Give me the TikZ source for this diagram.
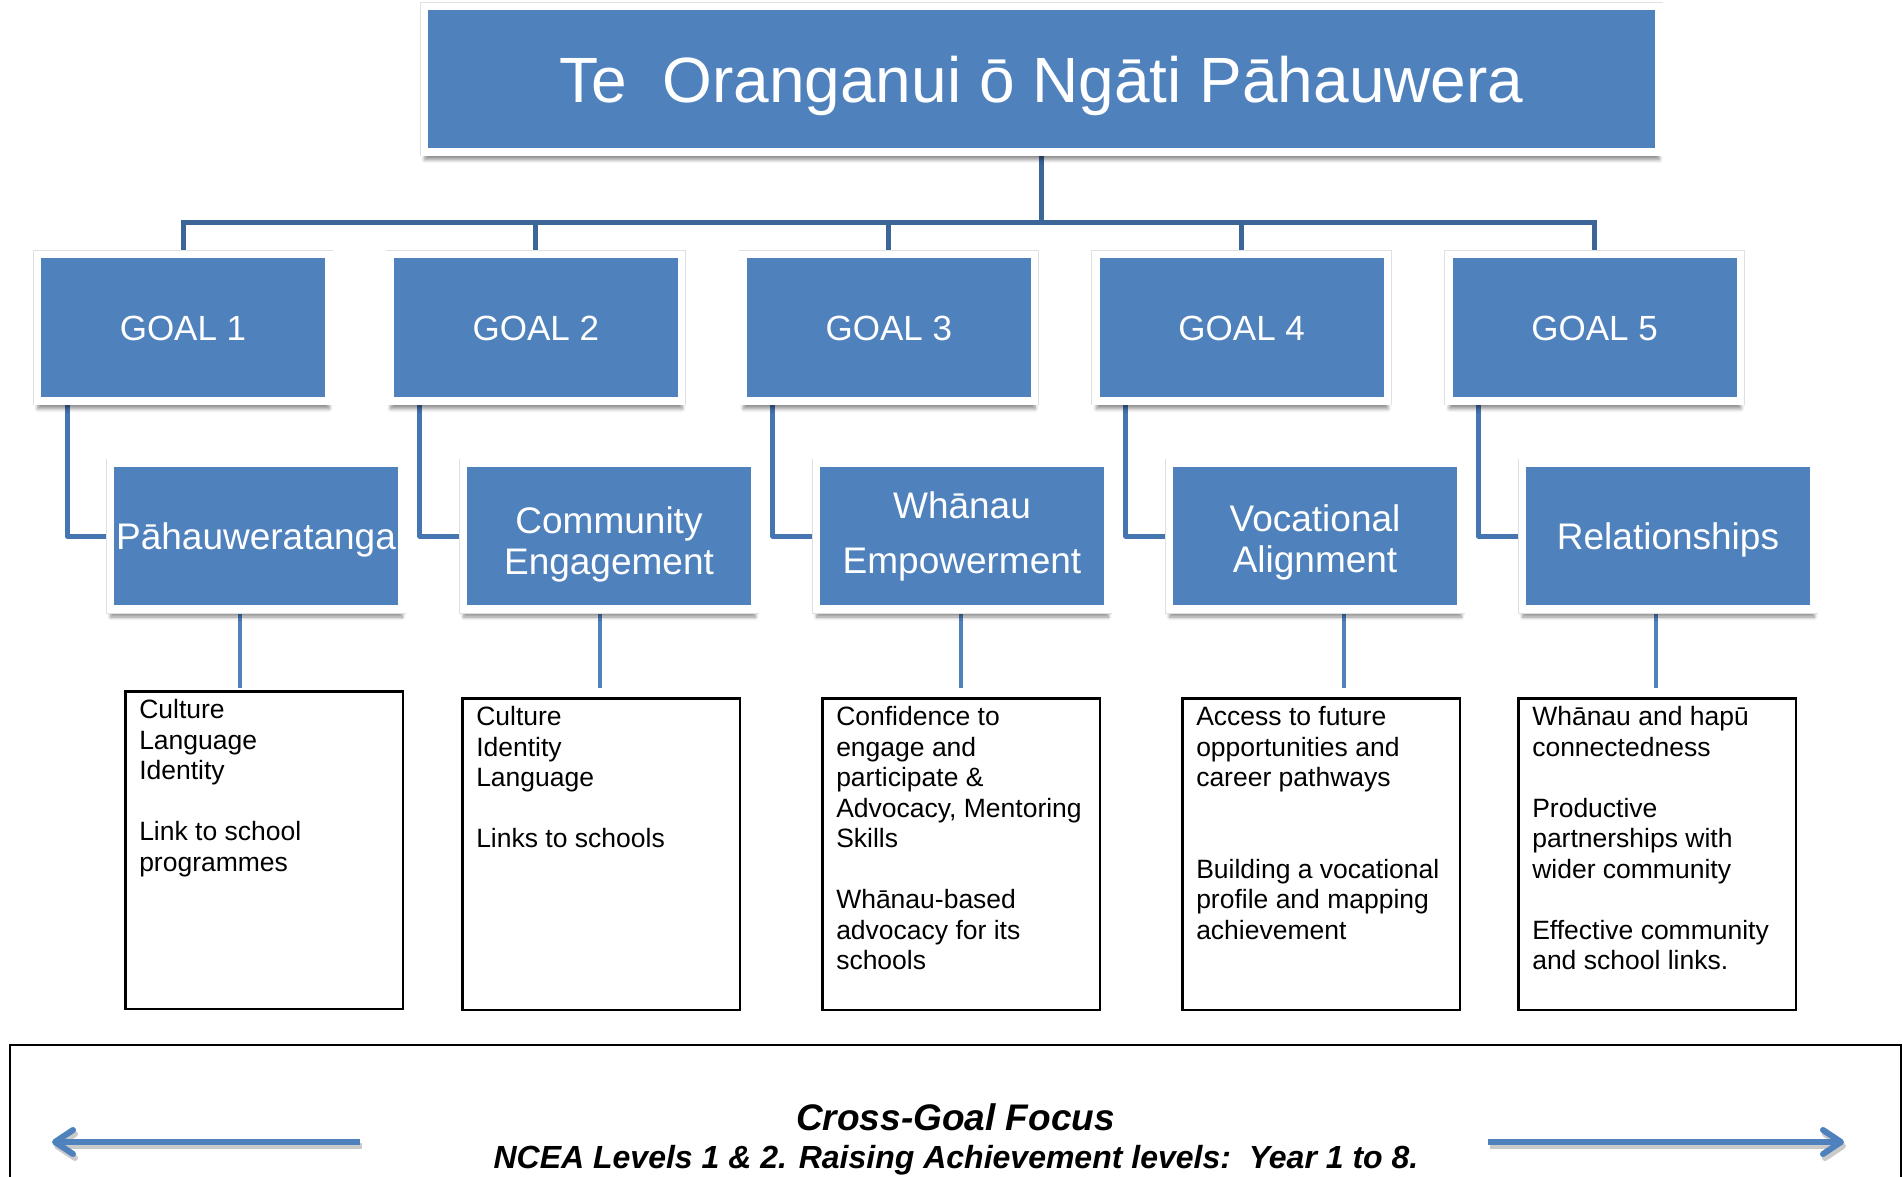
\documentclass[tikz,border=0pt]{standalone}
\usepackage{fontspec}
\setmainfont{Liberation Sans}
\usetikzlibrary{arrows.meta,backgrounds,shadows.blur}

\definecolor{orgblue}{HTML}{4F81BD}
\definecolor{busblue}{HTML}{3C6698}
\definecolor{linkblue}{HTML}{4676B2}
\definecolor{arrowgray}{HTML}{CACACA}

\tikzset{
  bluebox/.style={rectangle, fill=orgblue, draw=white, line width=7.5pt, inner sep=0pt,
    text=white, align=center,
    blur shadow={shadow xshift=0.5pt, shadow yshift=-8pt, shadow opacity=45,
      shadow blur steps=6, shadow blur radius=3.5pt},
    preaction={draw=black!12, line width=9pt}},
  goalbox/.style={bluebox, minimum width=291.5pt, minimum height=146.5pt,
    font=\fontsize{35}{40}\selectfont, text height=25pt, text depth=0pt},
  areabox/.style={bluebox, minimum width=291.5pt, minimum height=146pt,
    font=\fontsize{37}{41}\selectfont},
  oneline/.style={text height=26.5pt, text depth=0pt},
  infobox/.style={draw=black, line width=2.5pt, anchor=north west, inner xsep=14pt,
    inner ysep=6pt, font=\fontsize{26.5}{30.5}\selectfont},
  bus/.style={draw=busblue, line width=5pt},
  elbow/.style={draw=linkblue, line width=5pt, line join=round},
  drop/.style={draw=orgblue, line width=4.5pt},
  wide/.style={line width=6pt, -{Straight Barb[round, length=18pt, width=24pt]}}
}

\begin{document}
\begin{tikzpicture}[x=1pt, y=-1pt]
  \useasboundingbox (0,0) rectangle (1903,1176);

  % top of the tree
  \node[bluebox, minimum width=1234.5pt, minimum height=145.5pt,
    font=\fontsize{64}{70}\selectfont, text height=46pt, text depth=0pt]
    (title) at (1041.5,79) {Te\ \ Oranganui ō Ngāti Pāhauwera};

  % the five goals
  \foreach \i in {1,...,5}
    \node[goalbox] (g\i) at ({183+352.9*(\i-1)},327.5) {GOAL \i};

  % focus areas
  \node[areabox, oneline] (area1) at (256,536) {Pāhauweratanga};
  \node[areabox] (area2) at (609,536) {\rule{0pt}{43pt}Community\\Engagement};
  \node[areabox] (area3) at (962,536) {Whānau\\[14pt]Empowerment};
  \node[areabox] (area4) at (1315,536) {\rule{0pt}{39pt}Vocational\\Alignment};
  \node[areabox, oneline] (area5) at (1668,536) {Relationships};

  % outcomes under each area
  \node[infobox] (info1) at (124,690) {\parbox[t][305.5pt][t]{249.5pt}{\raggedright\strut
    Culture\\ Language\\ Identity\\[\baselineskip] Link to school\\ programmes}};
  \node[infobox] (info2) at (461,697) {\parbox[t][299.5pt][t]{249.5pt}{\raggedright\strut
    Culture\\ Identity\\ Language\\[\baselineskip] Links to schools}};
  \node[infobox] (info3) at (821,697) {\parbox[t][299.5pt][t]{249.5pt}{\raggedright\strut
    Confidence to\\ engage and\\ participate \&\\ Advocacy, Mentoring\\ Skills\\[\baselineskip]
    Whānau-based\\ advocacy for its\\ schools}};
  \node[infobox] (info4) at (1181,697) {\parbox[t][299.5pt][t]{249.5pt}{\raggedright\strut
    Access to future\\ opportunities and\\ career pathways\\[2\baselineskip]
    Building a vocational\\ profile and mapping\\ achievement}};
  \node[infobox] (info5) at (1517,697) {\parbox[t][299.5pt][t]{249.5pt}{\raggedright\strut
    Whānau and hapū\\ connectedness\\[\baselineskip] Productive\\ partnerships with\\
    wider community\\[\baselineskip] Effective community\\ and school links.}};

  \begin{scope}[on background layer]
    \coordinate (bus) at ([yshift=-67pt]title.south);
    \draw[bus] (title.south) -- (bus);
    \foreach \i in {1,...,5}
      \draw[bus] (bus) -| (g\i.north);
    \foreach \i in {1,...,5}
      \draw[elbow] ([xshift=-116pt]g\i.south) |- (area\i.west);
    \foreach \i/\d/\g in {1/-24/2, 2/-1/9, 3/0/9, 4/23/9, 5/-1/9}
      \draw[drop, shorten >=\g pt] ([xshift=\d pt]info\i.north |- area\i.south)
        -- ([xshift=\d pt]info\i.north);
  \end{scope}

  % cross-goal strip at the foot
  \draw[line width=2.5pt] (10,1045) rectangle (1901,1240);
  \node[font=\fontsize{37}{40}\selectfont\bfseries\itshape, anchor=base]
    (focus) at (955.5,1130) {Cross-Goal Focus};
  \node[font=\fontsize{32}{36}\selectfont\bfseries\itshape, anchor=base]
    (ncea) at (956,1168) {NCEA Levels 1 \& 2. Raising Achievement levels:\ \ Year 1 to 8.};

  \coordinate (lfrom) at (360,1142);
  \coordinate (lto) at (52,1142);
  \coordinate (rfrom) at (1488,1142);
  \coordinate (rto) at (1844,1142);
  \draw[wide, arrowgray] ([shift={(2pt,-4pt)}]lfrom) -- ([shift={(2pt,-4pt)}]lto);
  \draw[wide, arrowgray] ([shift={(2pt,-4pt)}]rfrom) -- ([shift={(2pt,-4pt)}]rto);
  \draw[wide, orgblue] (lfrom) -- (lto);
  \draw[wide, orgblue] (rfrom) -- (rto);
\end{tikzpicture}
\end{document}
